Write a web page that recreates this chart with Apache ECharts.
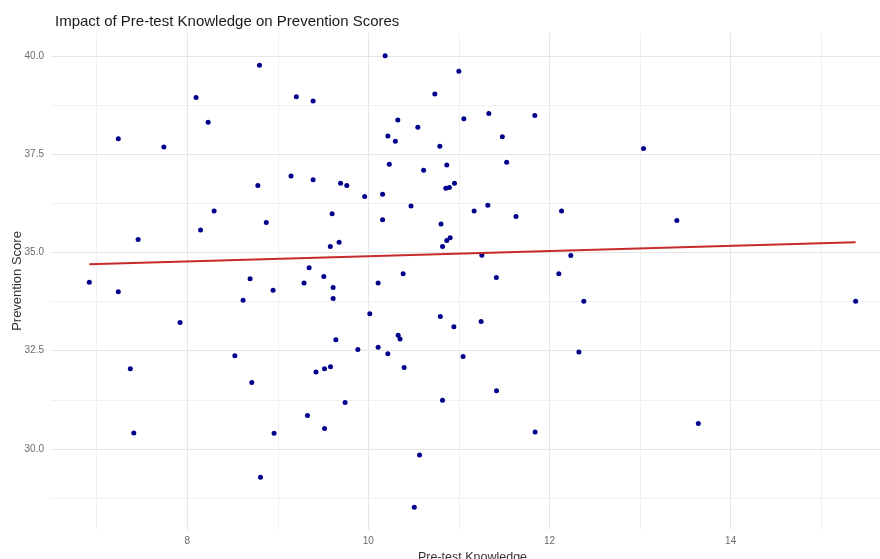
<!DOCTYPE html>
<html>
<head>
<meta charset="utf-8">
<title>Impact of Pre-test Knowledge on Prevention Scores</title>
<script src="https://cdn.jsdelivr.net/npm/echarts@6/dist/echarts.min.js"></script>
<style>
  html, body { margin: 0; padding: 0; background: #ffffff; }
  #chart { width: 880px; height: 559px; }
</style>
</head>
<body>
<div id="chart"></div>
<script>
// Pre-test knowledge score of each participant
const preTest = [
  6.919, 7.239, 7.239, 7.372, 7.410, 7.458, 7.742, 7.921, 8.098, 8.147,
  8.231, 8.297, 8.526, 8.617, 8.694, 8.713, 8.780, 8.798, 8.809, 8.873,
  8.948, 8.959, 9.146, 9.205, 9.290, 9.328, 9.346, 9.390, 9.390, 9.422,
  9.508, 9.516, 9.516, 9.580, 9.582, 9.600, 9.611, 9.611, 9.641, 9.677,
  9.693, 9.743, 9.762, 9.884, 9.959, 10.016, 10.108, 10.108, 10.157, 10.157,
  10.185, 10.215, 10.215, 10.231, 10.298, 10.325, 10.329, 10.350, 10.384, 10.395,
  10.471, 10.507, 10.546, 10.565, 10.610, 10.734, 10.789, 10.795, 10.802, 10.819,
  10.819, 10.855, 10.866, 10.866, 10.894, 10.903, 10.944, 10.951, 10.999, 11.046,
  11.054, 11.168, 11.245, 11.253, 11.319, 11.330, 11.413, 11.415, 11.479, 11.527,
  11.630, 11.838, 11.841, 12.103, 12.133, 12.235, 12.324, 12.379, 13.038, 13.406,
  13.643, 15.380
];

// Prevention score of the same participants, in the same order
const prevention = [
  34.24, 37.89, 34.00, 32.04, 30.41, 35.33, 37.68, 33.22, 38.94, 35.57,
  38.31, 36.05, 32.37, 33.78, 34.33, 31.69, 36.70, 39.76, 29.28, 35.76,
  34.04, 30.40, 36.94, 38.96, 34.22, 30.85, 34.61, 38.85, 36.85, 31.96,
  34.39, 32.04, 30.52, 35.15, 32.09, 35.98, 34.11, 33.83, 32.78, 35.26,
  36.76, 31.18, 36.70, 32.53, 36.42, 33.44, 34.22, 32.59, 36.48, 35.83,
  40.00, 37.96, 32.42, 37.24, 37.83, 38.37, 32.89, 32.80, 34.46, 32.07,
  36.18, 28.52, 38.18, 29.85, 37.09, 39.03, 37.70, 33.37, 35.72, 35.15,
  31.24, 36.63, 37.22, 35.30, 36.65, 35.37, 33.11, 36.76, 39.61, 32.35,
  38.40, 36.05, 33.24, 34.93, 36.20, 38.53, 34.36, 31.48, 37.94, 37.29,
  35.91, 38.48, 30.43, 34.46, 36.05, 34.92, 32.47, 33.76, 37.64, 35.81,
  30.65, 33.76
];

// Fitted linear trend: prevention score at the lowest and highest pre-test score
const trendX = [6.919, 15.380];
const trendY = [34.70, 35.26];

// Axis ticks and grid lines
const xTicks = [8, 10, 12, 14];
const xMinorGrid = [7, 9, 11, 13, 15];
const yTicks = [30, 32.5, 35, 37.5, 40];
const yMinorGrid = [28.75, 31.25, 33.75, 36.25, 38.75];

const points = preTest.map((x, i) => [x, prevention[i]]);
const trend = trendX.map((x, i) => [x, trendY[i]]);

const FONT = '"Liberation Sans", Arial, sans-serif';
const majorGrid = { color: '#e6e6e6', width: 1, type: 'solid' };
const minorGrid = { color: '#f0f0f0', width: 1, type: 'solid' };

function gridLines(values, axisKey, style) {
  return values.map(v => ({ [axisKey]: v, lineStyle: style }));
}

const chart = echarts.init(document.getElementById('chart'), null, { renderer: 'canvas' });

chart.setOption({
  animation: false,
  backgroundColor: '#ffffff',
  title: {
    text: 'Impact of Pre-test Knowledge on Prevention Scores',
    left: 50,
    top: 9,
    textStyle: { fontFamily: FONT, fontSize: 15, fontWeight: 'normal', color: '#1a1a1a' }
  },
  // vertical axis title, centred on the plotting panel
  graphic: [{
    type: 'text',
    x: 17,
    y: 281,
    rotation: Math.PI / 2,
    silent: true,
    style: {
      text: 'Prevention Score',
      fontFamily: FONT,
      fontSize: 13,
      fill: '#333333',
      align: 'center',
      verticalAlign: 'middle'
    }
  }],
  grid: {
    left: 51, right: 0, top: 33, bottom: 29,
    containLabel: false,
    outerBoundsMode: 'none'
  },
  xAxis: {
    type: 'value',
    min: 6.496,
    max: 15.649,
    name: 'Pre-test Knowledge',
    nameLocation: 'middle',
    nameGap: 17,
    nameTextStyle: {
      fontFamily: FONT, fontSize: 12.5, color: '#333333',
      verticalAlign: 'top', padding: [0, 0, 0, 14]
    },
    axisLine: { show: false },
    axisTick: { show: false, customValues: xTicks },
    splitLine: { show: false },
    axisLabel: {
      customValues: xTicks,
      margin: 6,
      fontFamily: FONT,
      fontSize: 10,
      color: '#6b6b6b'
    }
  },
  yAxis: {
    type: 'value',
    min: 27.94,
    max: 40.58,
    axisLine: { show: false },
    axisTick: { show: false, customValues: yTicks },
    splitLine: { show: false },
    axisLabel: {
      customValues: yTicks,
      margin: 7,
      fontFamily: FONT,
      fontSize: 10,
      color: '#6b6b6b',
      formatter: v => Number(v).toFixed(1)
    }
  },
  series: [
    {
      // panel grid lines, drawn on the axis scales beneath the data
      type: 'line',
      data: [],
      silent: true,
      z: 0,
      markLine: {
        silent: true,
        z: 0,
        symbol: 'none',
        label: { show: false },
        animation: false,
        data: [
          ...gridLines(xMinorGrid, 'xAxis', minorGrid),
          ...gridLines(yMinorGrid, 'yAxis', minorGrid),
          ...gridLines(xTicks, 'xAxis', majorGrid),
          ...gridLines(yTicks, 'yAxis', majorGrid)
        ]
      }
    },
    {
      name: 'Participants',
      type: 'scatter',
      data: points,
      symbol: 'circle',
      symbolSize: 5,
      z: 3,
      itemStyle: { color: '#00008b', opacity: 1 }
    },
    {
      name: 'Linear fit',
      type: 'line',
      data: trend,
      showSymbol: false,
      symbol: 'none',
      z: 4,
      lineStyle: { color: '#c62a2a', width: 2 }
    }
  ]
});
</script>
</body>
</html>
